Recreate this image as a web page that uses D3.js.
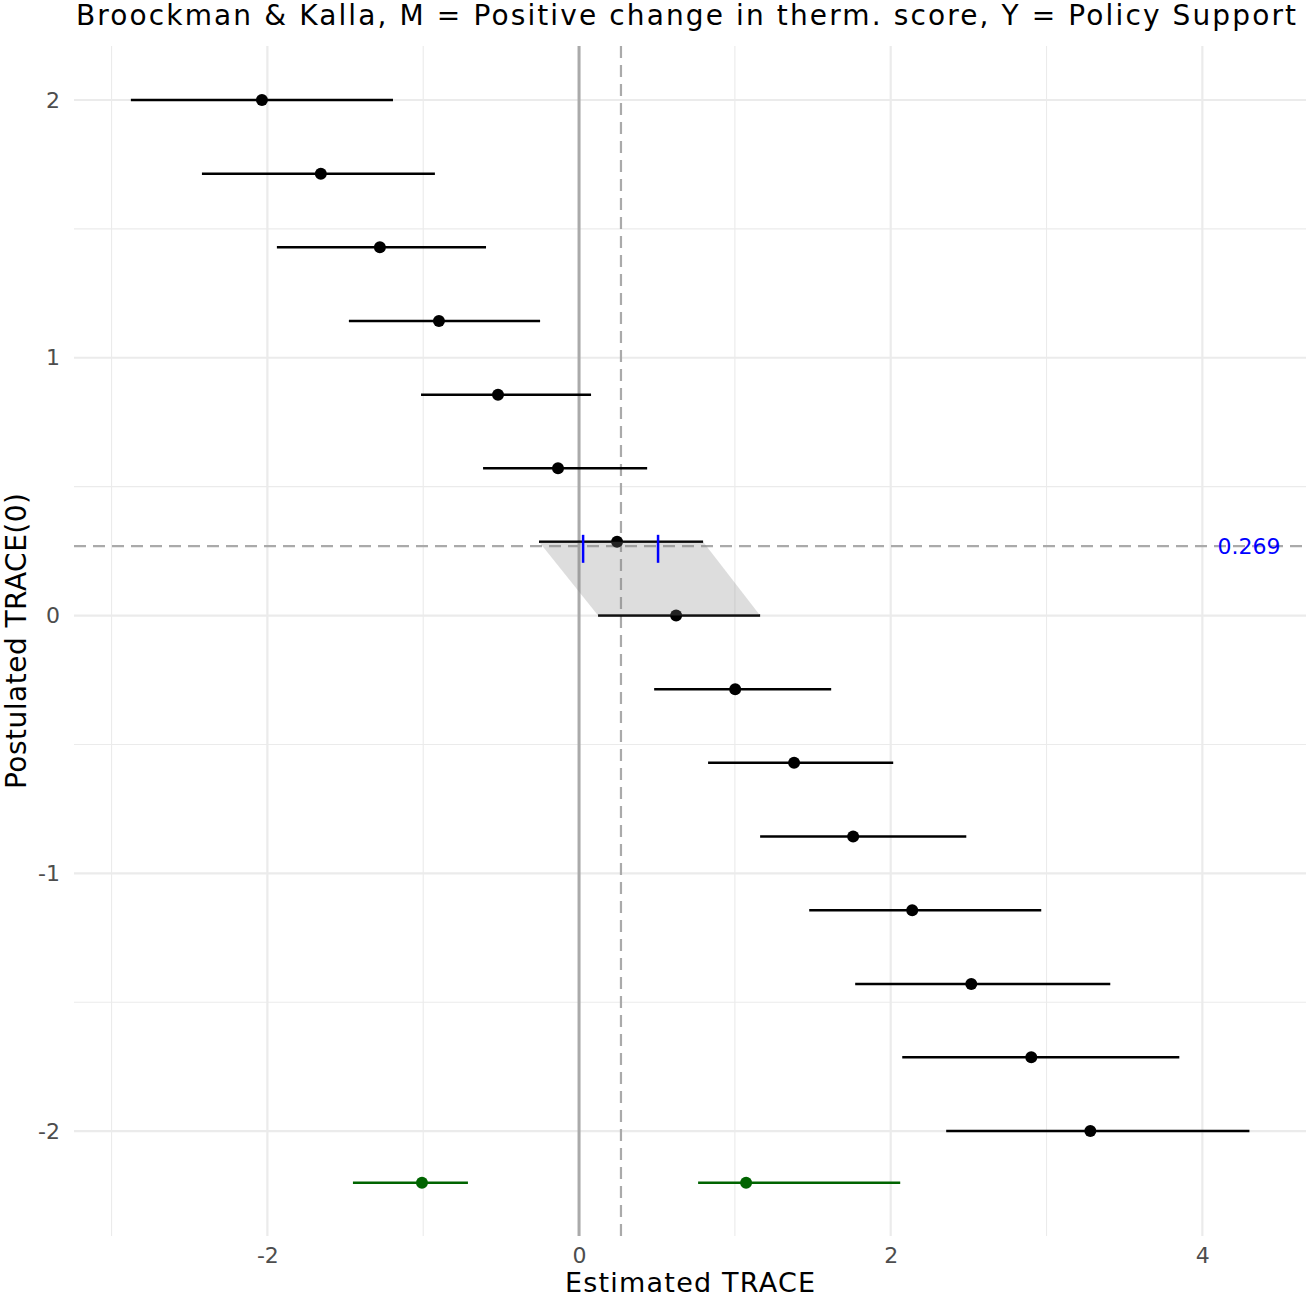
<!DOCTYPE html>
<html><head><meta charset="utf-8">
<script src="https://cdn.jsdelivr.net/npm/d3@7"></script>
<style>body{margin:0;background:#fff}svg{display:block}text{font-family:"DejaVu Sans",sans-serif}</style>
</head><body>
<svg id="chart" width="1306" height="1300"></svg>
<script>
// Data
const trace0 = [2, 1.714, 1.429, 1.143, 0.857, 0.571, 0.286, 0, -0.286, -0.571, -0.857, -1.143, -1.429, -1.714, -2];
const estimate = [-2.035, -1.657, -1.278, -0.899, -0.520, -0.135, 0.244, 0.623, 1.002, 1.380, 1.759, 2.138, 2.517, 2.902, 3.281];
const lower = [-2.876, -2.420, -1.939, -1.477, -1.014, -0.616, -0.257, 0.122, 0.482, 0.828, 1.162, 1.477, 1.772, 2.074, 2.356];
const upper = [-1.194, -0.925, -0.597, -0.250, 0.077, 0.437, 0.796, 1.162, 1.618, 2.016, 2.485, 2.966, 3.409, 3.852, 4.302];
const greenY = [-2.2, -2.2];
const greenEst = [-1.008, 1.072];
const greenLow = [-1.451, 0.764];
const greenUp = [-0.713, 2.061];
const cutoff = 0.269;
const blueTicks = [0.026, 0.507];
const xTicks = [-2, 0, 2, 4];
const xMinor = [-3, -1, 1, 3];
const yTicks = [2, 1, 0, -1, -2];
const yMinor = [1.5, 0.5, -0.5, -1.5];
const title = "Broockman & Kalla, M = Positive change in therm. score, Y = Policy Support";
const xLabel = "Estimated TRACE";
const yLabel = "Postulated TRACE(0)";

const svg = d3.select("#chart");
const L = 74, R = 1306, T = 46, B = 1236;
const x = d3.scaleLinear().domain([-3.241, 4.665]).range([L, R]);
const y = d3.scaleLinear().domain([2.2095, -2.407]).range([T, B]);
const fmt = d => String(d);  // hyphen-minus like the reference

// grid
const g = svg.append("g");
g.selectAll(".vmin").data(xMinor).join("line").attr("x1", d=>x(d)).attr("x2", d=>x(d)).attr("y1", T).attr("y2", B).attr("stroke", "#ebebeb").attr("stroke-width", 1.1);
g.selectAll(".hmin").data(yMinor).join("line").attr("y1", d=>y(d)).attr("y2", d=>y(d)).attr("x1", L).attr("x2", R).attr("stroke", "#ebebeb").attr("stroke-width", 1.1);
g.selectAll(".vmaj").data(xTicks).join("line").attr("x1", d=>x(d)).attr("x2", d=>x(d)).attr("y1", T).attr("y2", B).attr("stroke", "#ebebeb").attr("stroke-width", 2.2);
g.selectAll(".hmaj").data(yTicks).join("line").attr("y1", d=>y(d)).attr("y2", d=>y(d)).attr("x1", L).attr("x2", R).attr("stroke", "#ebebeb").attr("stroke-width", 2.2);

// axes tick labels
const xAxis = d3.axisBottom(x).tickValues(xTicks).tickSize(0).tickPadding(11).tickFormat(fmt);
const xa = svg.append("g").attr("transform", `translate(0,${B})`).call(xAxis);
xa.select(".domain").remove();
xa.selectAll("text").attr("font-size", 22).attr("fill", "#4d4d4d").attr("font-family", "DejaVu Sans");
const yAxis = d3.axisLeft(y).tickValues(yTicks).tickSize(0).tickPadding(14).tickFormat(fmt);
const ya = svg.append("g").attr("transform", `translate(${L},0)`).call(yAxis);
ya.select(".domain").remove();
ya.selectAll("text").attr("font-size", 22).attr("fill", "#4d4d4d").attr("font-family", "DejaVu Sans");

// reference lines
svg.append("line").attr("x1", x(0)).attr("x2", x(0)).attr("y1", T).attr("y2", B).attr("stroke", "#aaaaaa").attr("stroke-width", 3);
svg.append("line").attr("x1", x(cutoff)).attr("x2", x(cutoff)).attr("y1", T).attr("y2", B).attr("stroke", "#aaaaaa").attr("stroke-width", 2.2).attr("stroke-dasharray", "12,7");
svg.append("line").attr("y1", y(cutoff)).attr("y2", y(cutoff)).attr("x1", L).attr("x2", R).attr("stroke", "#aaaaaa").attr("stroke-width", 2.2).attr("stroke-dasharray", "12,7");

// intervals
const rows = trace0.map((t,i)=>({t, e:estimate[i], lo:lower[i], hi:upper[i]}));
svg.selectAll(".ci").data(rows).join("line").attr("x1", d=>x(d.lo)).attr("x2", d=>x(d.hi)).attr("y1", d=>y(d.t)).attr("y2", d=>y(d.t)).attr("stroke", "#000").attr("stroke-width", 2.5);
svg.selectAll(".pt").data(rows).join("circle").attr("cx", d=>x(d.e)).attr("cy", d=>y(d.t)).attr("r", 6).attr("fill", "#000");

const grows = greenY.map((t,i)=>({t, e:greenEst[i], lo:greenLow[i], hi:greenUp[i]}));
svg.selectAll(".gci").data(grows).join("line").attr("x1", d=>x(d.lo)).attr("x2", d=>x(d.hi)).attr("y1", d=>y(d.t)).attr("y2", d=>y(d.t)).attr("stroke", "#006400").attr("stroke-width", 2.5);
svg.selectAll(".gpt").data(grows).join("circle").attr("cx", d=>x(d.e)).attr("cy", d=>y(d.t)).attr("r", 6).attr("fill", "#006400");

// shaded region between rows bracketing the cutoff
const a = rows[6], b = rows[7];
const poly = [[a.lo,a.t],[a.hi,a.t],[b.hi,b.t],[b.lo,b.t]];
svg.append("polygon").attr("points", poly.map(p=>[x(p[0]), y(p[1])].join(",")).join(" ")).attr("fill", "#808080").attr("fill-opacity", 0.27);

// blue ticks
svg.selectAll(".bt").data(blueTicks).join("line").attr("x1", d=>x(d)).attr("x2", d=>x(d)).attr("y1", y(a.t)-7).attr("y2", y(a.t)+21).attr("stroke", "#0000ff").attr("stroke-width", 2.5);

// cutoff label
svg.append("text").attr("x", 1249).attr("y", y(cutoff)).attr("dy", "0.36em").attr("text-anchor", "middle").attr("font-size", 22).attr("fill", "#0000ff").text(cutoff.toFixed(3));

// titles
svg.append("text").attr("x", 76).attr("y", 25).attr("font-size", 28).attr("fill", "#000")
  .attr("textLength", 1220).attr("lengthAdjust", "spacing").text(title);
svg.append("text").attr("x", (L+R)/2).attr("y", 1292).attr("text-anchor", "middle").attr("font-size", 27).attr("fill", "#000")
  .attr("textLength", 250).attr("lengthAdjust", "spacing").text(xLabel);
svg.append("text").attr("transform", `translate(26,${(T+B)/2}) rotate(-90)`).attr("text-anchor", "middle").attr("font-size", 28).attr("fill", "#000")
  .attr("textLength", 296).attr("lengthAdjust", "spacing").text(yLabel);
</script>
</body></html>
